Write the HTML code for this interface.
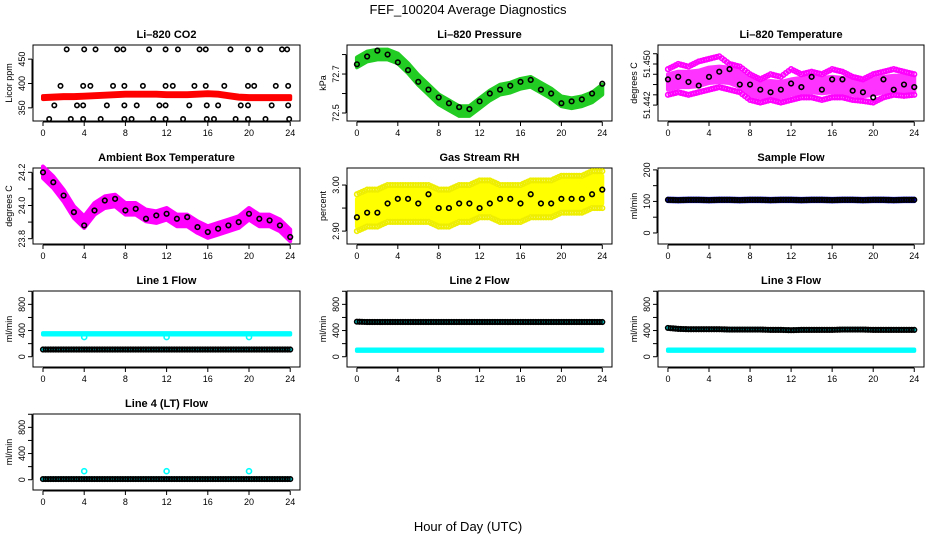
<!DOCTYPE html>
<html><head><meta charset="utf-8"><style>
body{margin:0;background:#fff;}
svg{display:block;font-family:"Liberation Sans",sans-serif;}
</style></head><body>
<svg id="c" width="936" height="540" xmlns="http://www.w3.org/2000/svg">
<text x="468" y="14" text-anchor="middle" font-size="13">FEF_100204  Average Diagnostics</text>
<text x="468" y="531" text-anchor="middle" font-size="13">Hour of Day (UTC)</text>
</svg>
<script>
const hours = [0,1,2,3,4,5,6,7,8,9,10,11,12,13,14,15,16,17,18,19,20,21,22,23,24];
const xTicks = [0,4,8,12,16,20,24];
// CO2
const co2Band = [371,372,373,373,374,375,376,377,378,378,378,378,377,377,377,378,379,378,375,372,371,371,371,371,371];
const co2BlackX = [2.3,4.0,5.1,7.2,7.8,10.3,11.9,13.1,15.2,15.8,18.2,19.9,21.1,23.2,23.7, 1.7,3.9,4.6,6.8,7.9,9.7,11.9,12.6,14.7,15.8,17.6,19.9,20.5,22.6,23.8, 1.1,3.3,3.9,6.2,7.9,9.1,11.3,11.9,14.2,15.9,17.0,19.2,19.9,22.2,23.8, 0.6,2.7,3.9,5.6,7.9,8.6,10.7,11.9,13.6,15.9,16.6,18.7,19.9,21.6,23.9];
const co2BlackY = [470,470,470,470,470,470,470,470,470,470,470,470,470,470,470, 395,395,395,395,395,395,395,395,395,395,395,395,395,395,395, 355,355,355,355,355,355,355,355,355,355,355,355,355,355,355, 327,327,327,327,327,327,327,327,327,327,327,327,327,327,327];
// Pressure
const presBand = [72.76,72.79,72.80,72.80,72.78,72.73,72.67,72.62,72.57,72.54,72.51,72.51,72.55,72.59,72.62,72.63,72.65,72.66,72.63,72.60,72.56,72.55,72.56,72.58,72.62];
const presBlack = [72.75,72.79,72.82,72.80,72.76,72.72,72.66,72.62,72.58,72.55,72.53,72.52,72.56,72.60,72.62,72.64,72.66,72.67,72.62,72.60,72.55,72.56,72.57,72.60,72.65];
// Li-820 temperature
const tempBand = [51.4465,51.4470,51.4470,51.4472,51.4478,51.4480,51.4478,51.4470,51.4455,51.4450,51.4452,51.4450,51.4455,51.4458,51.4460,51.4458,51.4460,51.4458,51.4455,51.4452,51.4455,51.4460,51.4462,51.4462,51.4460];
const tempUpper = [51.4490,51.4500,51.4495,51.4505,51.4510,51.4515,51.4500,51.4495,51.4480,51.4470,51.4480,51.4475,51.4490,51.4480,51.4485,51.4480,51.4490,51.4485,51.4475,51.4470,51.4480,51.4485,51.4490,51.4485,51.4480];
const tempLower = [51.4440,51.4445,51.4440,51.4445,51.4450,51.4455,51.4450,51.4445,51.4430,51.4425,51.4430,51.4425,51.4430,51.4435,51.4435,51.4430,51.4435,51.4435,51.4430,51.4428,51.4425,51.4435,51.4440,51.4438,51.4440];
const tempBlack = [51.4470,51.4475,51.4465,51.4458,51.4475,51.4485,51.4490,51.4460,51.4460,51.4450,51.4445,51.4450,51.4462,51.4455,51.4475,51.4450,51.4470,51.4470,51.4448,51.4445,51.4435,51.4470,51.4450,51.4460,51.4455];
// Ambient box temperature
const ambBand = [24.20,24.14,24.06,23.96,23.90,23.98,24.02,24.03,23.98,23.98,23.94,23.93,23.95,23.91,23.91,23.87,23.84,23.86,23.88,23.90,23.95,23.91,23.91,23.88,23.82];
const ambBlack = [24.20,24.14,24.06,23.96,23.88,23.97,24.03,24.04,23.97,23.98,23.92,23.94,23.95,23.92,23.93,23.87,23.84,23.86,23.88,23.90,23.95,23.92,23.91,23.88,23.81];
// Gas stream RH
const rhBand = [2.94,2.95,2.95,2.96,2.96,2.96,2.96,2.96,2.95,2.95,2.96,2.96,2.97,2.97,2.96,2.96,2.96,2.97,2.97,2.97,2.98,2.98,2.98,2.99,2.99];
const rhBlack = [2.93,2.94,2.94,2.96,2.97,2.97,2.96,2.98,2.95,2.95,2.96,2.96,2.95,2.96,2.97,2.97,2.96,2.98,2.96,2.96,2.97,2.97,2.97,2.98,2.99];
// Sample flow
const sampleFlow = [105,104,105,105,104,105,105,104,105,105,104,105,105,104,105,105,104,105,105,104,105,105,104,105,105];
// Line flows
const line1Hi = [350,350,350,350,350,350,350,350,350,350,350,350,350,350,350,350,350,350,350,350,350,350,350,350,350];
const line1Lo = [110,110,110,110,110,110,110,110,110,110,110,110,110,110,110,110,110,110,110,110,110,110,110,110,110];
const line2Hi = [535,530,530,530,530,530,530,530,530,530,530,530,530,530,530,530,530,530,530,530,530,530,530,530,530];
const line2Lo = [100,100,100,100,100,100,100,100,100,100,100,100,100,100,100,100,100,100,100,100,100,100,100,100,100];
const line3Hi = [440,425,420,420,420,420,415,415,415,415,410,410,405,410,410,410,410,415,415,415,410,410,410,410,410];
const line3Lo = [100,100,100,100,100,100,100,100,100,100,100,100,100,100,100,100,100,100,100,100,100,100,100,100,100];
const line4 = [10,10,10,10,10,10,10,10,10,10,10,10,10,10,10,10,10,10,10,10,10,10,10,10,10];
const spikeHours = [4,12,20];
const line1Dip = [300,300,300];
const line4Spike = [130,130,130];

const svg = document.getElementById('c');
const NS = 'http://www.w3.org/2000/svg';
const cols = [[33,300],[347,612],[658,924]];
const rowTop = [45,168,291,414];
const H = 76;
function mk(tag, attrs, parent){const e=document.createElementNS(NS,tag);for(const k in attrs)e.setAttribute(k,attrs[k]);(parent||svg).appendChild(e);return e;}

function panel(name,title,c,r,ymin,ymax,ticks,labels,ylab){
  const [L,R]=cols[c]; const T=rowTop[r], B=T+H;
  const g=mk('g',{});
  
  
  const xs=h=>L+(h+0.97)/(25.92)*(R-L);
  const ys=v=>B-(v-ymin)/(ymax-ymin)*H;
  const t=mk('text',{x:(L+R)/2,y:T-7,'text-anchor':'middle','font-size':11,'font-weight':'bold'},g);
  t.textContent=title;
  
  
  const box=mk('rect',{x:L,y:T,width:R-L,height:H,fill:'none',stroke:'#000','stroke-width':1},g);
  
  
  mk('line',{x1:xs(0),x2:xs(24),y1:B+1,y2:B+1,stroke:'#000'},g);
  xTicks.forEach(v=>{
    mk('line',{x1:xs(v),x2:xs(v),y1:B+1,y2:B+5,stroke:'#000'},g);
    const tl=mk('text',{x:xs(v),y:B+15,'text-anchor':'middle','font-size':9},g);tl.textContent=v;
    
    
  });
  mk('line',{x1:L-1,x2:L-1,y1:ys(ticks[0]),y2:ys(ticks[ticks.length-1]),stroke:'#000'},g);
  ticks.forEach((v,i)=>{
    mk('line',{x1:L-5,x2:L-1,y1:ys(v),y2:ys(v),stroke:'#000'},g);
    if(labels[i]){const yl=mk('text',{x:L-8,y:ys(v),'text-anchor':'middle','font-size':9,transform:`rotate(-90 ${L-8} ${ys(v)})`},g);yl.textContent=labels[i];
      
      }
  });
  const al=mk('text',{x:L-21,y:(T+B)/2,'text-anchor':'middle','font-size':9,transform:`rotate(-90 ${L-21} ${(T+B)/2})`},g);
  al.textContent=ylab;
  
  
  return {g,xs,ys};
}
function bandUL(p,up,lo,color){
  let a=hours.map((h,i)=>`${p.xs(h)},${p.ys(up[i])}`);
  let b=hours.slice().reverse().map((h,j)=>{const i=hours.length-1-j;return `${p.xs(h)},${p.ys(lo[i])}`;});
  const poly=mk('polygon',{points:a.concat(b).join(' '),fill:color,stroke:color,'stroke-width':4,'stroke-linejoin':'round'},p.g);
  
  
}
function band(p,vals,spread,color){
  bandUL(p,vals.map(v=>v+spread),vals.map(v=>v-spread),color);
}
function pts(p,xarr,yarr,color,r){
  xarr.forEach((h,i)=>{
    const c=mk('circle',{cx:p.xs(h),cy:p.ys(yarr[i]),r:r||2.5,fill:'none',stroke:color,'stroke-width':1.6},p.g);
    
    
  });
}
function dense(p,vals,color){
  const xx=[],yy=[];
  for(let i=0;i<hours.length-1;i++){for(let k=0;k<4;k++){xx.push(hours[i]+k/4);yy.push(vals[i]+(vals[i+1]-vals[i])*k/4);}}
  xx.push(24);yy.push(vals[24]);
  pts(p,xx,yy,color,2.3);
}

let p;
p=panel('co2-panel','Li\u2013820 CO2',0,0,323,479,[350,400,450],['350','400','450'],'Licor ppm');
band(p,co2Band,3,'#ff0000'); pts(p,co2BlackX,co2BlackY,'#000',2.2);

p=panel('pressure-panel','Li\u2013820 Pressure',1,0,72.459,72.849,[72.5,72.6,72.7,72.8],['72.5','','72.7',''],'kPa');
band(p,presBand,0.025,'#22cc22'); pts(p,hours,presBlack,'#000',2.3);

p=panel('temperature-panel','Li\u2013820 Temperature',2,0,51.4389,51.4537,[51.442,51.444,51.446,51.448,51.450,51.452],['51.442','','','','51.450',''],'degrees C');
band(p,tempBand,0.0015,'#ff33ff'); dense(p,tempUpper,'#ff00ff'); dense(p,tempLower,'#ff00ff'); pts(p,hours,tempBlack,'#000',2.3);

p=panel('ambient-temp-panel','Ambient Box Temperature',0,1,23.768,24.226,[23.8,23.9,24.0,24.1,24.2],['23.8','','24.0','','24.2'],'degrees C');
band(p,ambBand,0.035,'#ff00ff'); pts(p,hours,ambBlack,'#000',2.3);

p=panel('gas-rh-panel','Gas Stream RH',1,1,2.872,3.037,[2.90,2.95,3.00],['2.90','','3.00'],'percent');
band(p,rhBand,0.03,'#ffff00'); dense(p,rhBand.map(v=>v+0.04),'#eeee00'); dense(p,rhBand.map(v=>v-0.04),'#eeee00'); pts(p,hours,rhBlack,'#000',2.3);

p=panel('sample-flow-panel','Sample Flow',2,1,-35,206,[0,50,100,150,200],['0','','100','','200'],'ml/min');
band(p,sampleFlow,4,'#0000ee'); dense(p,sampleFlow,'#000');

const flowTicks=[0,200,400,600,800,1000], flowLabels=['0','','400','','800',''];
p=panel('line1-flow-panel','Line 1 Flow',0,2,-157,1004,flowTicks,flowLabels,'ml/min');
band(p,line1Hi,10,'#00ffff'); band(p,line1Lo,10,'#00ffff'); dense(p,line1Lo,'#000'); pts(p,spikeHours,line1Dip,'#00ffff',2.5);

p=panel('line2-flow-panel','Line 2 Flow',1,2,-157,1004,flowTicks,flowLabels,'ml/min');
band(p,line2Hi,10,'#00ffff'); band(p,line2Lo,10,'#00ffff'); dense(p,line2Hi,'#000');

p=panel('line3-flow-panel','Line 3 Flow',2,2,-157,1004,flowTicks,flowLabels,'ml/min');
band(p,line3Hi,10,'#00ffff'); band(p,line3Lo,10,'#00ffff'); dense(p,line3Hi,'#000');

p=panel('line4-flow-panel','Line 4 (LT) Flow',0,3,-157,1004,flowTicks,flowLabels,'ml/min');
band(p,line4,10,'#00ffff'); dense(p,line4,'#000'); pts(p,spikeHours,line4Spike,'#00ffff',2.5);
</script>
</body></html>
